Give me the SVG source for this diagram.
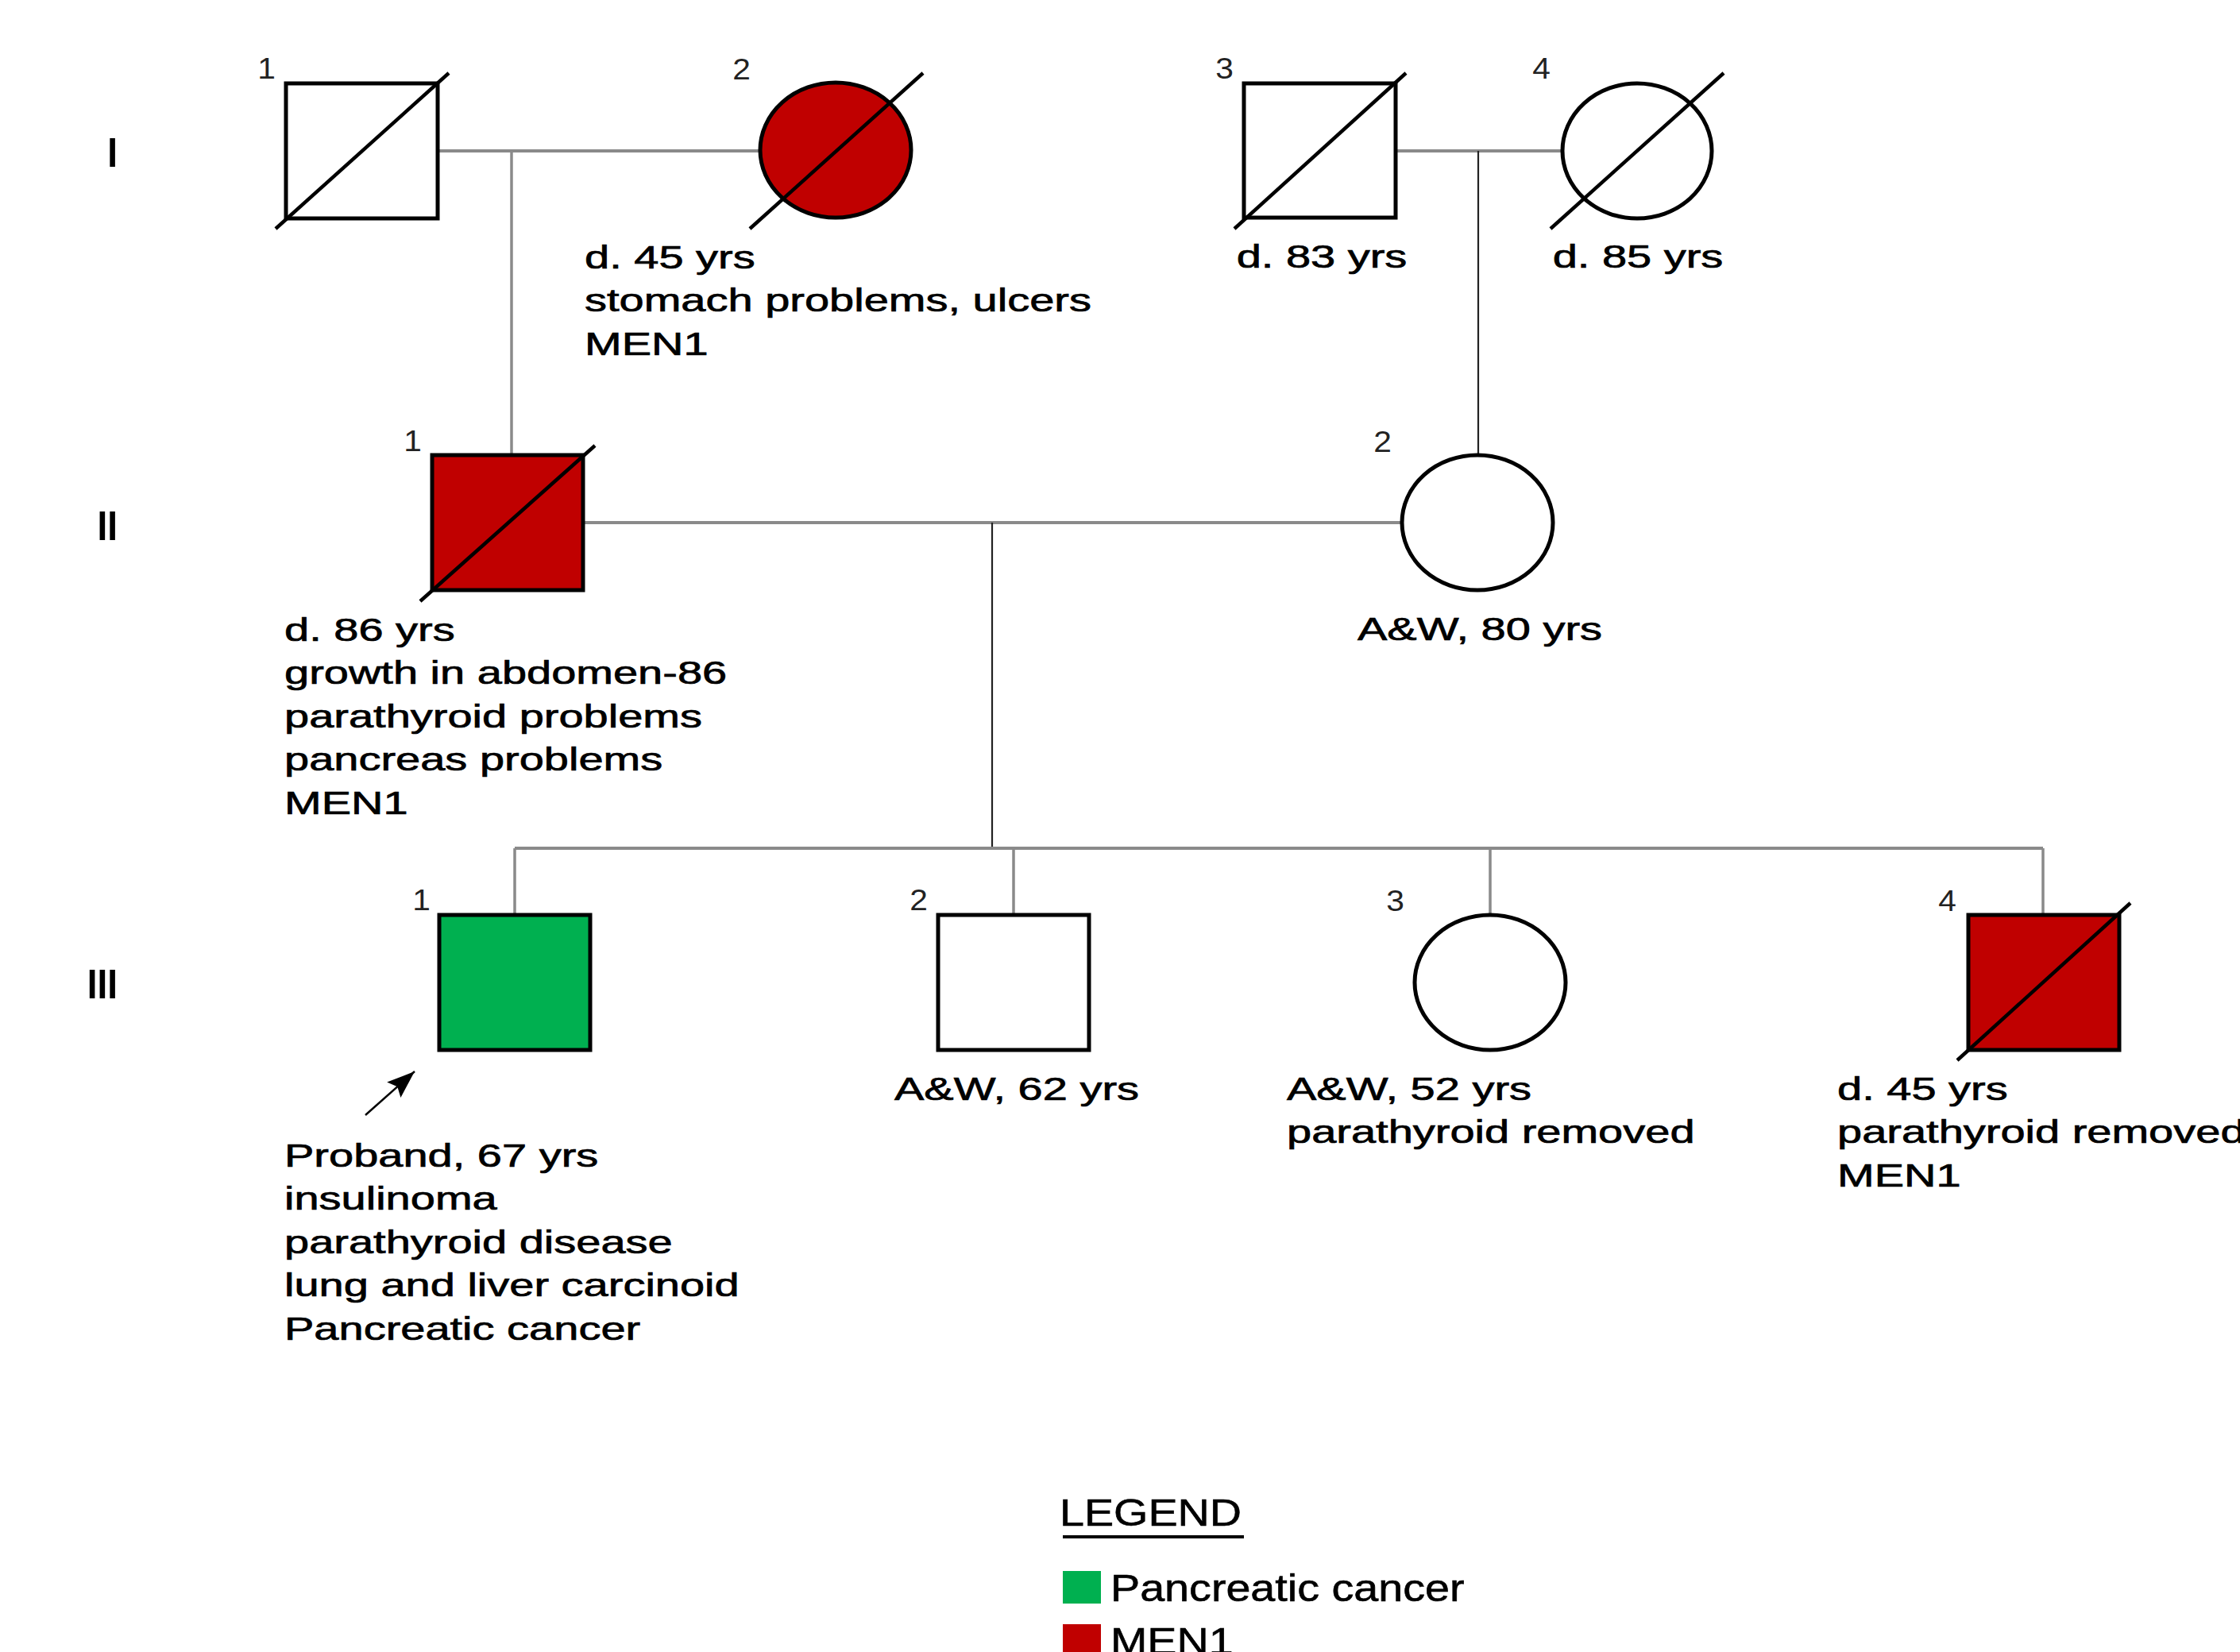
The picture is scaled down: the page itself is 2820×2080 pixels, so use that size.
<svg xmlns="http://www.w3.org/2000/svg" width="2820" height="2080" viewBox="0 0 2820 2080">
  <defs>
    <style>
      .lbl { font-family: "Liberation Sans", Arial, sans-serif; font-size: 40px; fill: #000; stroke: #000; stroke-width: 0.7px; }
      .num { font-family: "Liberation Sans", Arial, sans-serif; font-size: 37px; fill: #222; text-anchor: end; }
      .gen { font-family: "Liberation Sans", Arial, sans-serif; font-size: 52px; font-weight: bold; fill: #000; text-anchor: end; }
      .leg { font-family: "Liberation Sans", Arial, sans-serif; font-size: 48px; fill: #000; stroke: #000; stroke-width: 0.6px; }
      .shape { stroke: #000; stroke-width: 5; }
      .slash { stroke: #000; stroke-width: 4.5; fill: none; }
      .white { fill: #fff; }
      .men1 { fill: #C00000; }
      .panc { fill: #00B050; }
      .mline { stroke: #8a8a8a; stroke-width: 4; fill: none; }
      .dline { stroke: #8a8a8a; stroke-width: 3.5; fill: none; }
      .kline { stroke: #222; stroke-width: 2.2; fill: none; }
    </style>
    <marker id="arrowhead" markerUnits="userSpaceOnUse" markerWidth="36" markerHeight="28" refX="35" refY="13" orient="auto">
      <path d="M0,0 L35,13 L0,26 L6,13 z" fill="#000"/>
    </marker>
  </defs>
  <rect x="0" y="0" width="2820" height="2080" fill="#fff"/>

  <!-- generation labels -->
  <g id="generations">
    <text class="gen" transform="translate(148,210) scale(0.88,1)">I</text>
    <text class="gen" transform="translate(148,680) scale(0.88,1)">II</text>
    <text class="gen" transform="translate(148,1257) scale(0.88,1)">III</text>
  </g>

  <!-- connectors -->
  <g id="connectors">
    <line class="mline" x1="551" y1="190" x2="957" y2="190"/>
    <line class="dline" x1="644" y1="190" x2="644" y2="573"/>
    <line class="mline" x1="1758" y1="190" x2="1967" y2="190"/>
    <line class="kline" x1="1861" y1="190" x2="1861" y2="573"/>
    <line class="mline" x1="734" y1="658" x2="1765" y2="658"/>
    <line class="kline" x1="1249" y1="658" x2="1249" y2="1068"/>
    <line class="mline" x1="648" y1="1068" x2="2572" y2="1068"/>
    <line class="dline" x1="648" y1="1068" x2="648" y2="1152"/>
    <line class="dline" x1="1276" y1="1068" x2="1276" y2="1152"/>
    <line class="dline" x1="1876" y1="1068" x2="1876" y2="1152"/>
    <line class="dline" x1="2572" y1="1068" x2="2572" y2="1152"/>
    <line id="proband-arrow" stroke="#000" stroke-width="2.5" x1="460" y1="1404" x2="522" y2="1349" marker-end="url(#arrowhead)"/>
  </g>

  <!-- Generation I -->
  <g id="I-1">
    <rect class="shape white" x="360" y="105" width="191" height="170"/>
    <line class="slash" x1="347" y1="288" x2="565" y2="92"/>
    <text class="num" transform="translate(347,99) scale(1.1,1)">1</text>
  </g>
  <g id="I-2">
    <ellipse class="shape men1" cx="1052" cy="189" rx="95" ry="85"/>
    <line class="slash" x1="944" y1="288" x2="1162" y2="92"/>
    <text class="num" transform="translate(945,100) scale(1.1,1)">2</text>
    <text class="lbl" transform="translate(736,338) scale(1.4,1)"><tspan x="0" y="0">d. 45 yrs</tspan><tspan x="0" y="54.5">stomach problems, ulcers</tspan><tspan x="0" y="109">MEN1</tspan></text>
  </g>
  <g id="I-3">
    <rect class="shape white" x="1566" y="105" width="191" height="169"/>
    <line class="slash" x1="1554" y1="288" x2="1770" y2="92"/>
    <text class="num" transform="translate(1553,99) scale(1.1,1)">3</text>
    <text class="lbl" text-anchor="middle" transform="translate(1664,337) scale(1.4,1)">d. 83 yrs</text>
  </g>
  <g id="I-4">
    <ellipse class="shape white" cx="2061" cy="190" rx="94" ry="85"/>
    <line class="slash" x1="1952" y1="288" x2="2170" y2="92"/>
    <text class="num" transform="translate(1952,99) scale(1.1,1)">4</text>
    <text class="lbl" text-anchor="middle" transform="translate(2062,337) scale(1.4,1)">d. 85 yrs</text>
  </g>

  <!-- Generation II -->
  <g id="II-1">
    <rect class="shape men1" x="544" y="573" width="190" height="170"/>
    <line class="slash" x1="529" y1="757" x2="749" y2="561"/>
    <text class="num" transform="translate(531,568) scale(1.1,1)">1</text>
    <text class="lbl" transform="translate(358,807) scale(1.4,1)"><tspan x="0" y="0">d. 86 yrs</tspan><tspan x="0" y="54.5">growth in abdomen-86</tspan><tspan x="0" y="109">parathyroid problems</tspan><tspan x="0" y="163.5">pancreas problems</tspan><tspan x="0" y="218">MEN1</tspan></text>
  </g>
  <g id="II-2">
    <ellipse class="shape white" cx="1860" cy="658" rx="95" ry="85"/>
    <text class="num" transform="translate(1752,569) scale(1.1,1)">2</text>
    <text class="lbl" text-anchor="middle" transform="translate(1863,806) scale(1.4,1)">A&amp;W, 80 yrs</text>
  </g>

  <!-- Generation III -->
  <g id="III-1">
    <rect class="shape panc" x="553" y="1152" width="190" height="170"/>
    <text class="num" transform="translate(542,1146) scale(1.1,1)">1</text>
    <text class="lbl" transform="translate(358,1469) scale(1.4,1)"><tspan x="0" y="0">Proband, 67 yrs</tspan><tspan x="0" y="54.5">insulinoma</tspan><tspan x="0" y="109">parathyroid disease</tspan><tspan x="0" y="163.5">lung and liver carcinoid</tspan><tspan x="0" y="218">Pancreatic cancer</tspan></text>
  </g>
  <g id="III-2">
    <rect class="shape white" x="1181" y="1152" width="190" height="170"/>
    <text class="num" transform="translate(1168,1146) scale(1.1,1)">2</text>
    <text class="lbl" text-anchor="middle" transform="translate(1280,1385) scale(1.4,1)">A&amp;W, 62 yrs</text>
  </g>
  <g id="III-3">
    <ellipse class="shape white" cx="1876" cy="1237" rx="95" ry="85"/>
    <text class="num" transform="translate(1768,1147) scale(1.1,1)">3</text>
    <text class="lbl" transform="translate(1620,1385) scale(1.4,1)"><tspan x="0" y="0">A&amp;W, 52 yrs</tspan><tspan x="0" y="54.5">parathyroid removed</tspan></text>
  </g>
  <g id="III-4">
    <rect class="shape men1" x="2478" y="1152" width="190" height="170"/>
    <line class="slash" x1="2464" y1="1335" x2="2682" y2="1137"/>
    <text class="num" transform="translate(2463,1147) scale(1.1,1)">4</text>
    <text class="lbl" transform="translate(2313,1385) scale(1.4,1)"><tspan x="0" y="0">d. 45 yrs</tspan><tspan x="0" y="54.5">parathyroid removed</tspan><tspan x="0" y="109">MEN1</tspan></text>
  </g>

  <!-- Legend -->
  <g id="legend">
    <text class="leg" transform="translate(1334,1921) scale(1.16,1)">LEGEND</text>
    <line x1="1338" y1="1935" x2="1566" y2="1935" stroke="#000" stroke-width="4"/>
    <rect class="panc" x="1338" y="1978" width="48" height="41"/>
    <text class="leg" transform="translate(1398,2016) scale(1.16,1)">Pancreatic cancer</text>
    <rect class="men1" x="1338" y="2045" width="48" height="41"/>
    <text class="leg" transform="translate(1398,2083) scale(1.16,1)">MEN1</text>
  </g>
</svg>
